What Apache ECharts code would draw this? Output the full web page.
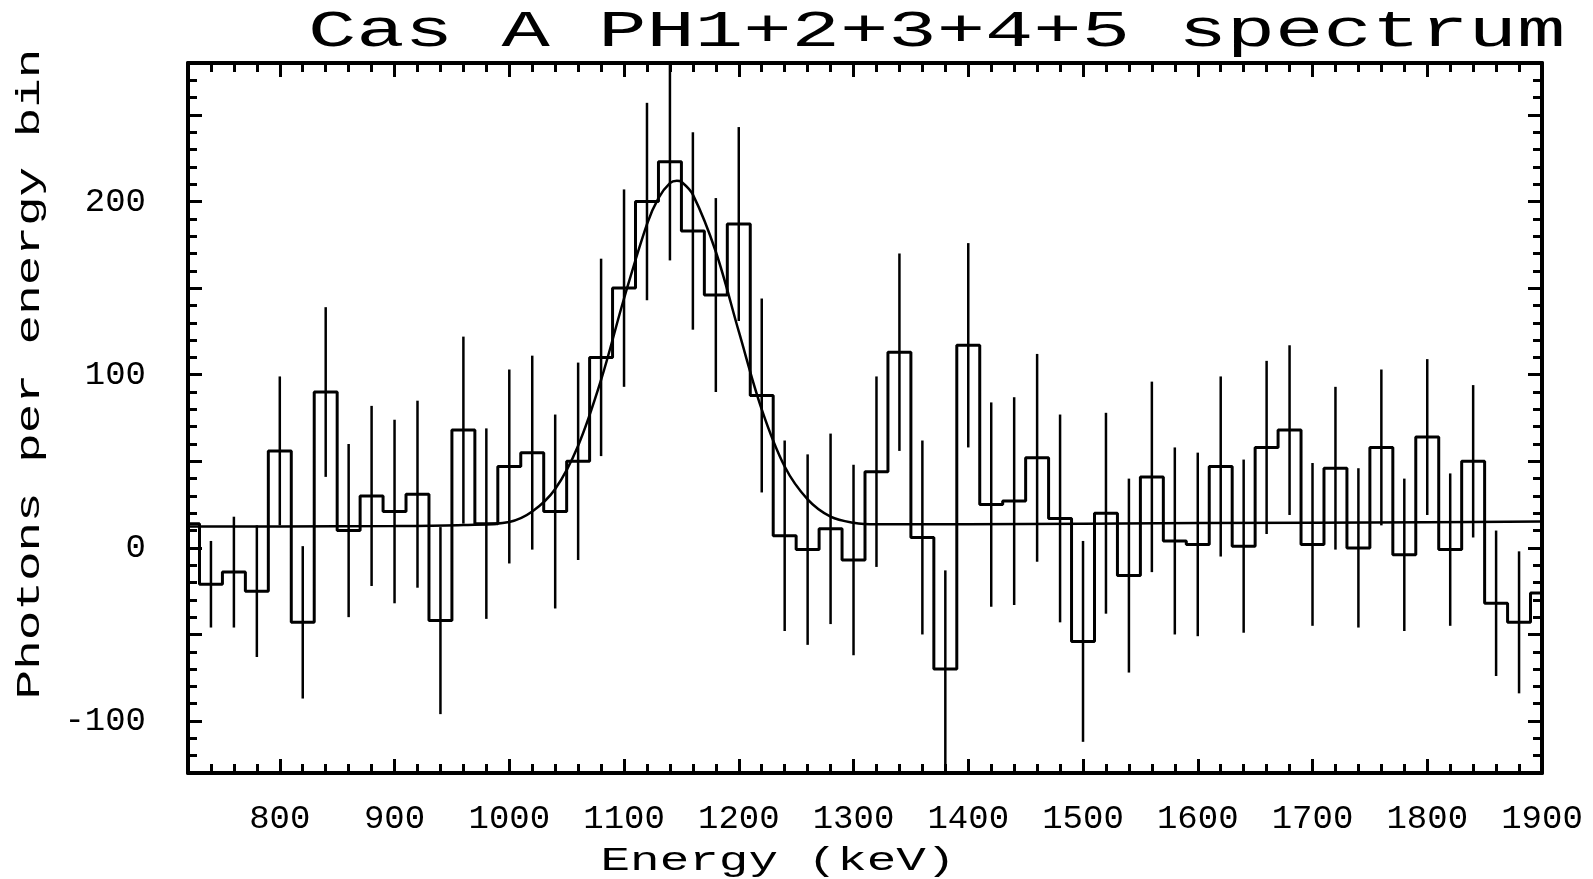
<!DOCTYPE html>
<html>
<head>
<meta charset="utf-8">
<script src="https://cdn.jsdelivr.net/npm/echarts@6/dist/echarts.min.js"></script>
<style>
  html, body { margin: 0; padding: 0; background: #fff; }
  #chart { width: 1593px; height: 879px; }
</style>
</head>
<body>
<div id="chart"></div>
<script>
// ---- Data ----
var titleText = 'Cas A PH1+2+3+4+5 spectrum';
var xAxisName = 'Energy (keV)';
var yAxisName = 'Photons per energy bin';

// 20 keV energy bins (centres, keV)
var binCenters = [720, 740, 760, 780, 800, 820, 840, 860, 880, 900,
                  920, 940, 960, 980, 1000, 1020, 1040, 1060, 1080, 1100,
                  1120, 1140, 1160, 1180, 1200, 1220, 1240, 1260, 1280, 1300,
                  1320, 1340, 1360, 1380, 1400, 1420, 1440, 1460, 1480, 1500,
                  1520, 1540, 1560, 1580, 1600, 1620, 1640, 1660, 1680, 1700,
                  1720, 1740, 1760, 1780, 1800, 1820, 1840, 1860, 1880, 1900];
// photons per bin
var counts = [14, -21, -14, -25, 56, -43, 90, 10, 30, 21,
              31, -42, 68, 14, 47, 55, 21, 50, 110, 150,
              200, 223, 183, 146, 187, 88, 7, -1, 11, -7,
              44, 113, 6, -70, 117, 25, 27, 52, 17, -54,
              20, -16, 41, 4, 2, 47, 1, 58, 68, 2,
              46, 0, 58, -4, 64, -1, 50, -32, -43, -26];
// 1-sigma error (half length of the error bar); null = not drawn
var errors = [null, 25, 32, 38, 43, 44, 49, 50, 52, 53,
              54, 54, 54, 55, 56, 56, 56, 57, 57, 57,
              57, 57, 57, 56, 56, 56, 55, 55, 55, 55,
              55, 57, 56, 57, 59, 59, 60, 60, 60, 58,
              58, 56, 55, 54, 53, 52, 50, 50, 49, 47,
              47, 46, 45, 44, 45, 44, 44, 42, 41, null];

// fitted line + background model curve
var fitEnergy = [720, 800, 900, 960, 1000, 1020, 1040, 1060, 1080, 1100,
                 1120, 1130, 1140, 1146, 1150, 1160, 1180, 1200, 1220, 1240,
                 1260, 1280, 1300, 1320, 1360, 1400, 1600, 1800, 1900];
var fitValue  = [12.3, 12.4, 12.6, 13.2, 15, 21, 34, 59, 97, 144,
                 187, 202, 210.6, 212, 211.4, 204, 171, 125, 80, 47,
                 28, 18, 14.5, 13.6, 13.6, 13.7, 14.3, 14.8, 15.2];

// axis tick labels / tick positions
var xLabelValues = [800, 900, 1000, 1100, 1200, 1300, 1400, 1500, 1600, 1700, 1800, 1900];
var xMajorTicks  = [800, 900, 1000, 1100, 1200, 1300, 1400, 1500, 1600, 1700, 1800, 1900];
var yLabelValues = [-100, 0, 100, 200];
var yMajorTicks  = [-100, -50, 0, 50, 100, 150, 200, 250];
var yMinorTicks  = [-130, -120, -110, -100, -90, -80, -70, -60, -50, -40, -30, -20, -10,
                    0, 10, 20, 30, 40, 50, 60, 70, 80, 90, 100, 110, 120, 130, 140, 150,
                    160, 170, 180, 190, 200, 210, 220, 230, 240, 250, 260, 270, 280];

// ---- Chart ----
var chart = echarts.init(document.getElementById('chart'), null, { renderer: 'canvas' });

var FONT = '"Liberation Mono", "Courier New", "DejaVu Sans Mono", monospace';
var X_MIN = 720, X_MAX = 1900, Y_MIN = -130, Y_MAX = 280;
function plain(v) { return String(v); }

// minor axis: frame line + minor ticks; major axis: long ticks (+ labels)
function xAxisCfg(pos, major, labels) {
  var c = {
    type: 'value', position: pos, min: X_MIN, max: X_MAX, interval: 20,
    axisLine: { show: !major, onZero: false, lineStyle: { color: '#000', width: 4 } },
    axisTick: { show: true, inside: true, length: major ? 14 : 9, lineStyle: { color: '#000', width: 3 } },
    axisLabel: { show: false },
    splitLine: { show: false }
  };
  if (major) c.axisTick.customValues = xMajorTicks;
  if (labels) {
    c.axisLabel = { show: true, customValues: xLabelValues, formatter: plain, margin: 29, color: '#000',
      fontFamily: FONT, fontSize: 34, fontWeight: 'normal' };
  }
  return c;
}
function yAxisCfg(pos, major, labels) {
  var c = {
    type: 'value', position: pos, min: Y_MIN, max: Y_MAX, interval: 10,
    axisLine: { show: !major, onZero: false, lineStyle: { color: '#000', width: 4 } },
    axisTick: { show: true, inside: true, length: major ? 14 : 9, lineStyle: { color: '#000', width: 3 },
                customValues: major ? yMajorTicks : yMinorTicks },
    axisLabel: { show: false },
    splitLine: { show: false }
  };
  if (labels) {
    c.axisLabel = { show: true, customValues: yLabelValues, formatter: plain, margin: 42, color: '#000',
      fontFamily: FONT, fontSize: 34, fontWeight: 'normal' };
  }
  return c;
}

var stepData = binCenters.map(function (c, i) { return [c, counts[i]]; });
var errData = [];
binCenters.forEach(function (c, i) {
  if (errors[i] != null) errData.push([c, counts[i] - errors[i], counts[i] + errors[i]]);
});
var fitData = fitEnergy.map(function (e, i) { return [e, fitValue[i]]; });

var option = {
  animation: false,
  backgroundColor: '#fff',
  grid: { left: 188, top: 63, width: 1354, height: 710, containLabel: false },
  xAxis: [
    xAxisCfg('bottom', false, false),
    xAxisCfg('bottom', true, true),
    xAxisCfg('top', false, false),
    xAxisCfg('top', true, false)
  ],
  yAxis: [
    yAxisCfg('left', false, false),
    yAxisCfg('left', true, true),
    yAxisCfg('right', false, false),
    yAxisCfg('right', true, false)
  ],
  series: [
    {
      type: 'line', name: 'spectrum', data: stepData, step: 'middle',
      symbol: 'none', clip: true,
      lineStyle: { color: '#000', width: 3 }
    },
    {
      type: 'custom', name: 'errors', data: errData, clip: true,
      encode: { x: 0, y: [1, 2] },
      renderItem: function (params, api) {
        var x = api.value(0);
        var p1 = api.coord([x, api.value(1)]);
        var p2 = api.coord([x, api.value(2)]);
        return {
          type: 'line',
          shape: { x1: p1[0], y1: p1[1], x2: p2[0], y2: p2[1] },
          style: { stroke: '#000', lineWidth: 2.5 }
        };
      }
    },
    {
      type: 'line', name: 'fit', data: fitData, smooth: 0.35,
      symbol: 'none', clip: true,
      lineStyle: { color: '#000', width: 2.5 }
    }
  ],
  graphic: [
    {
      type: 'text', x: 308, y: 32, scaleX: 1.58, silent: true,
      style: { text: titleText, font: 'normal 51px ' + FONT, fill: '#000',
               textAlign: 'left', textVerticalAlign: 'middle' }
    },
    {
      type: 'text', x: 778, y: 861, scaleX: 1.45, silent: true,
      style: { text: xAxisName, font: 'normal 34px ' + FONT, fill: '#000',
               textAlign: 'center', textVerticalAlign: 'middle' }
    },
    {
      type: 'text', x: 30, y: 374, rotation: Math.PI / 2, scaleX: 1.45, silent: true,
      style: { text: yAxisName, font: 'normal 34px ' + FONT, fill: '#000',
               textAlign: 'center', textVerticalAlign: 'middle' }
    }
  ]
};
chart.setOption(option);
</script>
</body>
</html>
